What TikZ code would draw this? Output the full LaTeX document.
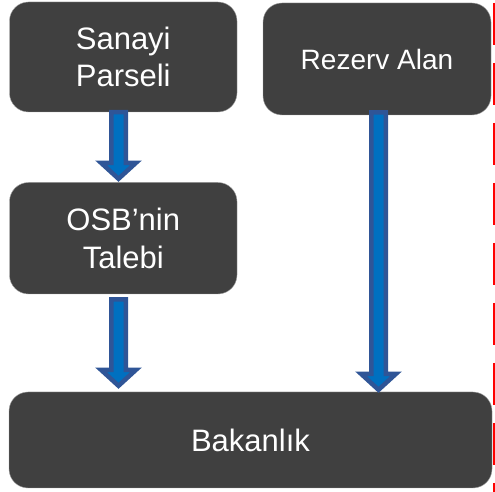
\documentclass[tikz,border=0pt]{standalone}
\usepackage{fontspec}
\setmainfont{Liberation Sans}
\usetikzlibrary{calc}
\definecolor{boxgray}{HTML}{404040}
\definecolor{boxedge}{HTML}{A6A6A6}
\definecolor{arrowfill}{HTML}{0070C0}
\definecolor{arrowedge}{HTML}{2F5597}
\tikzset{
  box/.style={rectangle, rounded corners=19pt, fill=boxgray, draw=boxedge, line width=0.4pt,
    text=white, align=center, inner sep=0pt},
  bigtext/.style={font=\fontsize{31}{37.5}\selectfont},
  midtext/.style={font=\fontsize{28}{34}\selectfont},
  barrow/.style={fill=arrowfill, draw=arrowedge, line width=4.5pt, line join=miter},
  reddash/.style={draw=red, line width=1.6pt, dash pattern=on 42pt off 18pt}
}
% #1 top node, #2 bottom node, #3 x (pt), #4 top offset, #5 tip offset
\newcommand\blockarrow[5]{%
  \draw[barrow] let \p1=(#1.south), \p2=(#2.north) in
    (#3pt-7.25pt, \y1+#4pt) -- (#3pt+7.25pt, \y1+#4pt) --
    (#3pt+7.25pt, \y2+#5pt+16pt) -- (#3pt+17.5pt, \y2+#5pt+16pt) --
    (#3pt, \y2+#5pt) --
    (#3pt-17.5pt, \y2+#5pt+16pt) -- (#3pt-7.25pt, \y2+#5pt+16pt) -- cycle;}
\begin{document}
\begin{tikzpicture}[x=1pt,y=1pt]
\fill[white] (0,0) rectangle (495,492);
\useasboundingbox (0,0) rectangle (495,492);
% red dashed line (y from top = 3 down to bottom)
\coordinate (rtop) at (494,489);
\coordinate (rbot) at (494,0);
\draw[reddash] (rtop) -- (rbot);
% boxes
\node[box, bigtext, minimum width=227.5pt, minimum height=110pt] (s1) at (123.25,435) {Sanayi\\Parseli};
\node[box, midtext, minimum width=228pt, minimum height=112pt] (r) at (377,433) {Rezerv Alan};
\node[box, bigtext, minimum width=227.5pt, minimum height=111.5pt] (o) at (123.25,253.75) {OSB’nin\\Talebi};
\node[box, bigtext, minimum width=483pt, minimum height=96pt] (b) at (250.5,52) {Bakanlık};
% arrows
\blockarrow{s1}{o}{118.5}{0}{3.5}
\blockarrow{o}{b}{118.5}{-5.25}{6}
\blockarrow{r}{b}{378.5}{2.75}{2}
\end{tikzpicture}
\end{document}
